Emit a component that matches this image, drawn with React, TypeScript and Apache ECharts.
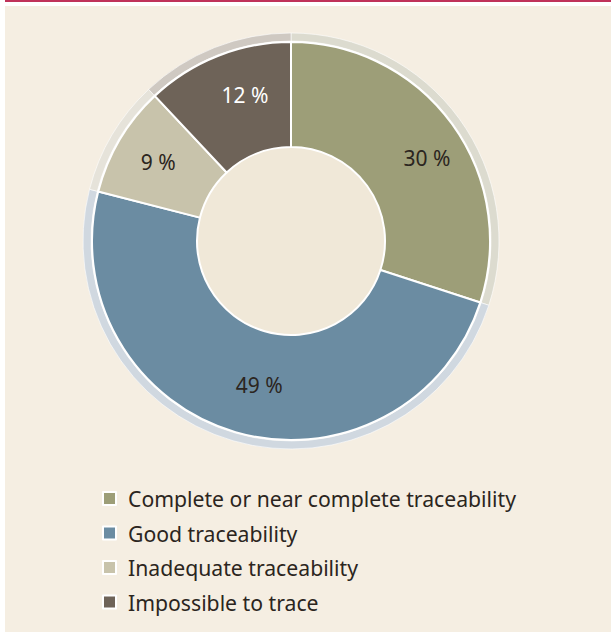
import React, { useEffect, useRef } from "react";
import * as echarts from "echarts";

const categories = [
  "Complete or near complete traceability",
  "Good traceability",
  "Inadequate traceability",
  "Impossible to trace",
];
const values = [30, 49, 9, 12];
const sliceColors = ["#9d9e78", "#6b8ca2", "#c8c3ab", "#6e6358"];
const ringColors = ["#dcdbcf", "#d0d8e0", "#e6e3da", "#cfc9c2"];
const labelColors = ["#2b2520", "#2b2520", "#2b2520", "#ffffff"];
const labelShift = [
  [15, 5],
  [10, 0],
  [-4, -3],
  [9, -7],
];

export default function App() {
  const ref = useRef<HTMLDivElement>(null);
  useEffect(() => {
    document.body.style.margin = "0";
    if (!ref.current) return;
    const chart = echarts.init(ref.current, undefined, { renderer: "svg" });
    const cx = 291;
    const cy = 241;
    chart.setOption({
      animation: false,
      backgroundColor: "transparent",
      legend: {
        orient: "vertical",
        left: 97,
        top: 481.5,
        itemWidth: 13,
        itemHeight: 13,
        itemGap: 10.5,
        icon: "rect",
        selectedMode: false,
        data: categories,
        textStyle: {
          fontFamily: "Noto Sans",
          fontSize: 21.2,
          lineHeight: 24,
          color: "#2b2520",
          padding: [0, 0, 0, 7],
        },
      },
      graphic: [
        {
          type: "circle",
          shape: { cx, cy, r: 94 },
          style: { fill: "#f0e8d8" },
          z: 0,
          silent: true,
        },
      ],
      series: [
        {
          type: "pie",
          center: [cx, cy],
          radius: [200, 208],
          startAngle: 90,
          clockwise: true,
          silent: true,
          label: { show: false },
          labelLine: { show: false },
          itemStyle: { borderColor: "#ffffff", borderWidth: 0.6 },
          data: categories.map((name, i) => ({
            name: name + " ",
            value: values[i],
            itemStyle: { color: ringColors[i] },
          })),
          legendHoverLink: false,
          z: 2,
        },
        {
          type: "pie",
          center: [cx, cy],
          radius: [94, 199],
          startAngle: 90,
          clockwise: true,
          silent: true,
          itemStyle: { borderColor: "#ffffff", borderWidth: 2 },
          label: {
            show: true,
            position: "inside",
            formatter: (p: any) => p.value + " %",
            fontFamily: "Noto Sans",
            fontSize: 21,
          },
          labelLayout: (p: any) => ({
            dx: labelShift[p.dataIndex][0],
            dy: labelShift[p.dataIndex][1],
          }),
          labelLine: { show: false },
          data: categories.map((name, i) => ({
            name,
            value: values[i],
            itemStyle: { color: sliceColors[i] },
            label: { color: labelColors[i] },
          })),
          z: 3,
        },
      ],
    });
    return () => chart.dispose();
  }, []);
  return (
    <div style={{ position: "relative", width: 611, height: 632, background: "#ffffff" }}>
      <div style={{ position: "absolute", left: 5, top: 0, right: 0, height: 2, background: "#c0325a" }} />
      <div style={{ position: "absolute", left: 5, top: 6, right: 0, bottom: 0, background: "#f5eee2" }} />
      <div ref={ref} style={{ position: "absolute", left: 0, top: 0, width: 611, height: 632 }} />
    </div>
  );
}
